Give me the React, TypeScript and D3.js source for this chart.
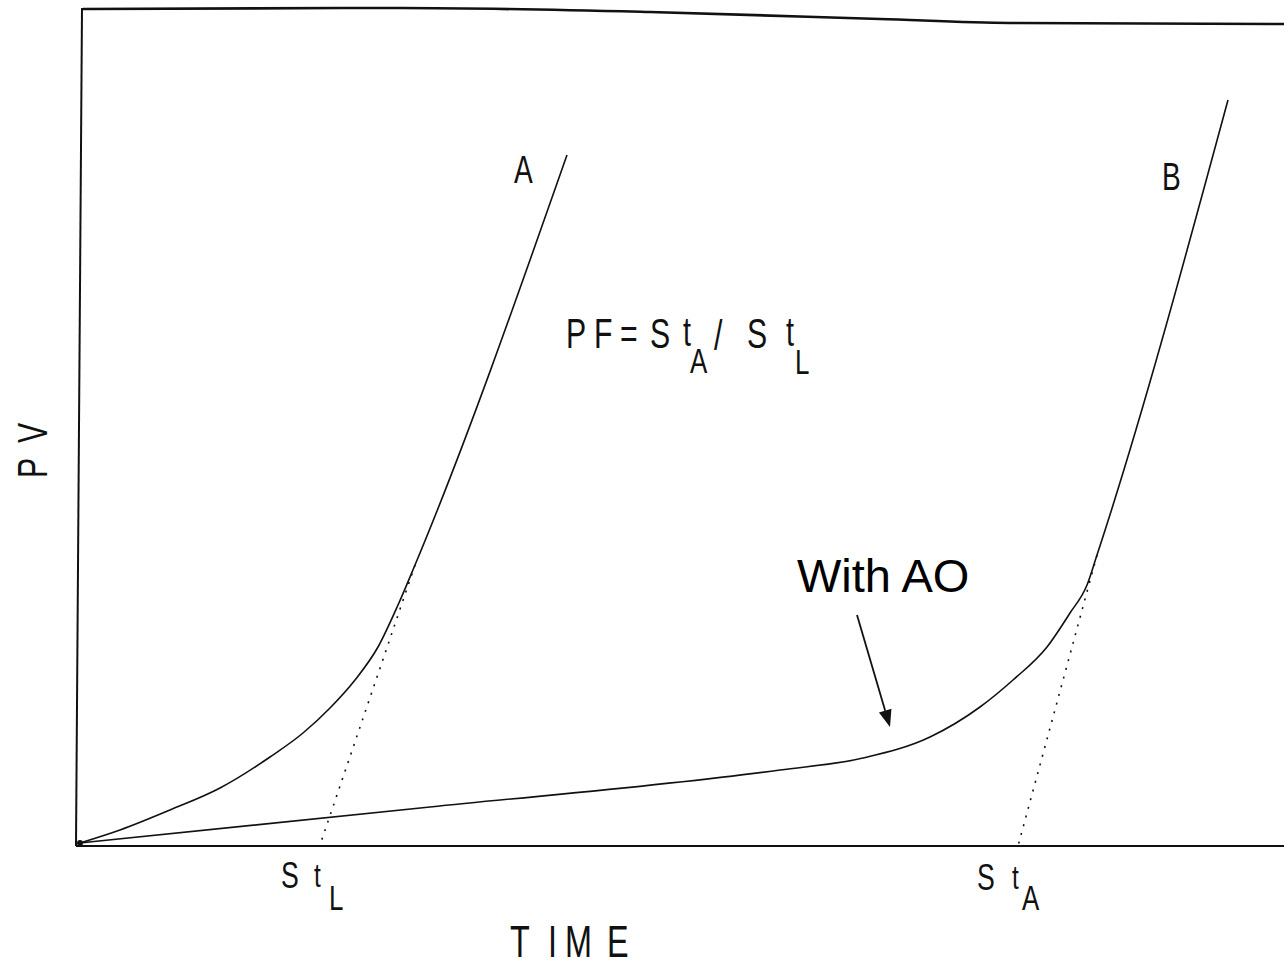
import React from 'react';
import * as d3 from 'd3';

// curve data in chart units (time, PV)
const curveA: [number, number][] = [
  [0, 0], [0.4, 0.13], [0.9, 0.33], [1.4, 0.55], [1.9, 0.86], [2.23, 1.1],
  [2.5, 1.35], [2.75, 1.63], [2.98, 1.96], [3.18, 2.38], [3.35, 2.78], [4.87, 6.88],
];
const curveB: [number, number][] = [
  [0, 0], [3.5, 0.36], [7.0, 0.73], [7.83, 0.85], [8.5, 1.06], [9.0, 1.36],
  [9.33, 1.63], [9.67, 1.96], [9.9, 2.3], [10.07, 2.58], [10.17, 2.88], [11.48, 7.43],
];
// dotted tangents extrapolated down to the time axis
const tangentA: [number, number][] = [[3.35, 2.78], [2.4, -0.02]];
const tangentB: [number, number][] = [[10.17, 2.88], [9.38, -0.03]];
// hand-drawn top edge of the frame
const frameTop: [number, number][] = [
  [0.03, 8.34], [3.2, 8.35], [5.7, 8.31], [8.0, 8.24], [9.3, 8.2], [12.04, 8.19],
];
// arrow pointing at curve B ("With AO")
const arrowPts: [number, number][] = [[7.77, 2.28], [8.1, 1.16]];

const W = 1284;
const H = 965;

const font = '"Liberation Sans", Arial, sans-serif';

const Glyph = ({ x, y, size, text, sx = 0.72 }: { x: number; y: number; size: number; text: string; sx?: number }) => (
  <text transform={`translate(${x},${y}) scale(${sx},1)`} fontSize={size} fontFamily={font} fill="#111">
    {text}
  </text>
);

const App = () => {
  const x = d3.scaleLinear().domain([0, 12.04]).range([80, 1284]);
  const y = d3.scaleLinear().domain([0, 8.33]).range([843, 10]);

  const smooth = d3.line<[number, number]>()
    .x(d => x(d[0]))
    .y(d => y(d[1]))
    .curve(d3.curveMonotoneX);
  const straight = d3.line<[number, number]>()
    .x(d => x(d[0]))
    .y(d => y(d[1]));

  // arrow head geometry
  const [a0, a1] = arrowPts.map(p => [x(p[0]), y(p[1])]);
  const ang = Math.atan2(a1[1] - a0[1], a1[0] - a0[0]);
  const hl = 17, hw = 6.5;
  const bx = a1[0] - hl * Math.cos(ang), by = a1[1] - hl * Math.sin(ang);
  const head = `M${a1[0]},${a1[1]}L${bx - hw * Math.sin(ang)},${by + hw * Math.cos(ang)}L${bx + hw * Math.sin(ang)},${by - hw * Math.cos(ang)}Z`;

  const axisY = Math.round(y(-0.03));

  return (
    <svg width={W} height={H} style={{ position: 'absolute', left: 0, top: 0, background: '#fff' }}>
      {/* frame */}
      <path d={smooth(frameTop) || ''} fill="none" stroke="#111" strokeWidth={2.6} />
      <line x1={82} y1={8} x2={76} y2={axisY} stroke="#111" strokeWidth={2} />
      <line x1={76} y1={axisY} x2={W} y2={axisY} stroke="#111" strokeWidth={2} />

      {/* curves */}
      <path d={smooth(curveA) || ''} fill="none" stroke="#111" strokeWidth={1.6} />
      <path d={smooth(curveB) || ''} fill="none" stroke="#111" strokeWidth={1.6} />
      <path d={straight(tangentA) || ''} fill="none" stroke="#111" strokeWidth={1.6} strokeDasharray="2 7" />
      <path d={straight(tangentB) || ''} fill="none" stroke="#111" strokeWidth={1.6} strokeDasharray="2 7" />
      <circle cx={x(0)} cy={y(0)} r={3} fill="#111" />

      {/* arrow */}
      <line x1={a0[0]} y1={a0[1]} x2={bx} y2={by} stroke="#111" strokeWidth={1.8} />
      <path d={head} fill="#111" />

      {/* curve labels */}
      <Glyph x={514} y={183} size={39} text="A" />
      <Glyph x={1162} y={190} size={39} text="B" />

      {/* PF formula */}
      <Glyph x={566} y={348} size={42} text="P" />
      <Glyph x={594} y={348} size={42} text="F" />
      <Glyph x={620} y={348} size={42} text="=" />
      <Glyph x={650} y={348} size={42} text="S" />
      <Glyph x={683} y={346} size={40} text="t" />
      <Glyph x={690} y={373} size={36} text="A" />
      <Glyph x={714} y={350} size={42} text="/" />
      <Glyph x={747} y={348} size={42} text="S" />
      <Glyph x={786} y={346} size={40} text="t" />
      <Glyph x={795} y={374} size={36} text="L" />

      {/* time axis marks */}
      <Glyph x={281} y={888} size={37} text="S" />
      <Glyph x={314} y={887} size={34} text="t" />
      <Glyph x={329} y={910} size={36} text="L" />
      <Glyph x={977} y={890} size={37} text="S" />
      <Glyph x={1012} y={889} size={34} text="t" />
      <Glyph x={1022} y={910} size={36} text="A" />

      {/* axis titles */}
      <Glyph x={510} y={957} size={45} text="T" />
      <Glyph x={548} y={957} size={45} text="I" />
      <Glyph x={565} y={957} size={45} text="M" />
      <Glyph x={607} y={957} size={45} text="E" />
      <text transform="translate(47,478) rotate(-90) scale(0.72,1)" fontSize={42} fontFamily={font} fill="#111">P</text>
      <text transform="translate(47,443) rotate(-90) scale(0.72,1)" fontSize={42} fontFamily={font} fill="#111">V</text>

      {/* annotation */}
      <text x={797} y={592} fontSize={47} fontFamily={font} fill="#000">With AO</text>
    </svg>
  );
};

export default App;
